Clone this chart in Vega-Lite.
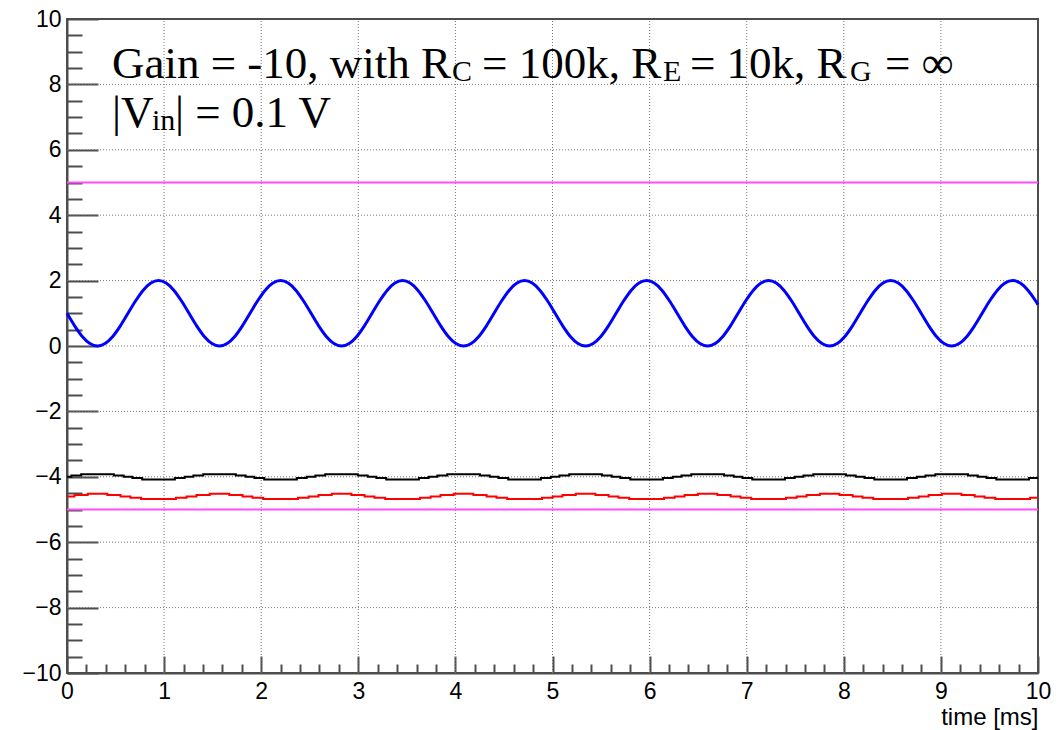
{
  "$schema": "https://vega.github.io/schema/vega-lite/v6.json",
  "width": 971,
  "height": 654,
  "autosize": "none",
  "padding": {"left": 67, "top": 19, "right": 22, "bottom": 57},
  "background": "white",
  "config": {
    "view": {"stroke": "#4d4d4d", "strokeWidth": 2},
    "axis": {
      "grid": false,
      "domainColor": "#4d4d4d",
      "domainWidth": 2,
      "tickColor": "#4d4d4d",
      "tickWidth": 2,
      "labelFont": "Liberation Sans",
      "labelFontSize": 23,
      "labelColor": "#000000",
      "labelFlush": false,
      "labelOverlap": false,
      "titleFont": "Liberation Sans",
      "titleFontWeight": "normal",
      "titleFontSize": 24,
      "titleColor": "#000000"
    }
  },
  "datasets": {
    "gridx": [
      {"t":1,"v":-10},{"t":1,"v":10},{"t":2,"v":-10},{"t":2,"v":10},{"t":3,"v":-10},{"t":3,"v":10},
      {"t":4,"v":-10},{"t":4,"v":10},{"t":5,"v":-10},{"t":5,"v":10},{"t":6,"v":-10},{"t":6,"v":10},
      {"t":7,"v":-10},{"t":7,"v":10},{"t":8,"v":-10},{"t":8,"v":10},{"t":9,"v":-10},{"t":9,"v":10}
    ],
    "gridy": [
      {"t":0,"v":-8},{"t":10,"v":-8},{"t":0,"v":-6},{"t":10,"v":-6},{"t":0,"v":-4},{"t":10,"v":-4},
      {"t":0,"v":-2},{"t":10,"v":-2},{"t":0,"v":0},{"t":10,"v":0},{"t":0,"v":2},{"t":10,"v":2},
      {"t":0,"v":4},{"t":10,"v":4},{"t":0,"v":6},{"t":10,"v":6},{"t":0,"v":8},{"t":10,"v":8}
    ],
    "blue": [
      {"t":0,"v":1},{"t":0.0785,"v":0.6173},{"t":0.1571,"v":0.2929},{"t":0.2356,"v":0.0761},{"t":0.3142,"v":0},{"t":0.3927,"v":0.0761},{"t":0.4712,"v":0.2929},{"t":0.5498,"v":0.6173},{"t":0.6283,"v":1},{"t":0.7069,"v":1.3827},{"t":0.7854,"v":1.7071},{"t":0.8639,"v":1.9239},{"t":0.9425,"v":2},{"t":1.0210,"v":1.9239},{"t":1.0996,"v":1.7071},{"t":1.1781,"v":1.3827},
      {"t":1.2566,"v":1},{"t":1.3352,"v":0.6173},{"t":1.4137,"v":0.2929},{"t":1.4923,"v":0.0761},{"t":1.5708,"v":0},{"t":1.6493,"v":0.0761},{"t":1.7279,"v":0.2929},{"t":1.8064,"v":0.6173},{"t":1.8850,"v":1},{"t":1.9635,"v":1.3827},{"t":2.0420,"v":1.7071},{"t":2.1206,"v":1.9239},{"t":2.1991,"v":2},{"t":2.2777,"v":1.9239},{"t":2.3562,"v":1.7071},{"t":2.4347,"v":1.3827},
      {"t":2.5133,"v":1},{"t":2.5918,"v":0.6173},{"t":2.6704,"v":0.2929},{"t":2.7489,"v":0.0761},{"t":2.8274,"v":0},{"t":2.9060,"v":0.0761},{"t":2.9845,"v":0.2929},{"t":3.0631,"v":0.6173},{"t":3.1416,"v":1},{"t":3.2201,"v":1.3827},{"t":3.2987,"v":1.7071},{"t":3.3772,"v":1.9239},{"t":3.4558,"v":2},{"t":3.5343,"v":1.9239},{"t":3.6128,"v":1.7071},{"t":3.6914,"v":1.3827},
      {"t":3.7699,"v":1},{"t":3.8485,"v":0.6173},{"t":3.9270,"v":0.2929},{"t":4.0055,"v":0.0761},{"t":4.0841,"v":0},{"t":4.1626,"v":0.0761},{"t":4.2412,"v":0.2929},{"t":4.3197,"v":0.6173},{"t":4.3982,"v":1},{"t":4.4768,"v":1.3827},{"t":4.5553,"v":1.7071},{"t":4.6339,"v":1.9239},{"t":4.7124,"v":2},{"t":4.7909,"v":1.9239},{"t":4.8695,"v":1.7071},{"t":4.9480,"v":1.3827},
      {"t":5.0265,"v":1},{"t":5.1051,"v":0.6173},{"t":5.1836,"v":0.2929},{"t":5.2622,"v":0.0761},{"t":5.3407,"v":0},{"t":5.4192,"v":0.0761},{"t":5.4978,"v":0.2929},{"t":5.5763,"v":0.6173},{"t":5.6549,"v":1},{"t":5.7334,"v":1.3827},{"t":5.8119,"v":1.7071},{"t":5.8905,"v":1.9239},{"t":5.9690,"v":2},{"t":6.0476,"v":1.9239},{"t":6.1261,"v":1.7071},{"t":6.2046,"v":1.3827},
      {"t":6.2832,"v":1},{"t":6.3617,"v":0.6173},{"t":6.4403,"v":0.2929},{"t":6.5188,"v":0.0761},{"t":6.5973,"v":0},{"t":6.6759,"v":0.0761},{"t":6.7544,"v":0.2929},{"t":6.8330,"v":0.6173},{"t":6.9115,"v":1},{"t":6.9900,"v":1.3827},{"t":7.0686,"v":1.7071},{"t":7.1471,"v":1.9239},{"t":7.2257,"v":2},{"t":7.3042,"v":1.9239},{"t":7.3827,"v":1.7071},{"t":7.4613,"v":1.3827},
      {"t":7.5398,"v":1},{"t":7.6184,"v":0.6173},{"t":7.6969,"v":0.2929},{"t":7.7754,"v":0.0761},{"t":7.8540,"v":0},{"t":7.9325,"v":0.0761},{"t":8.0111,"v":0.2929},{"t":8.0896,"v":0.6173},{"t":8.1681,"v":1},{"t":8.2467,"v":1.3827},{"t":8.3252,"v":1.7071},{"t":8.4038,"v":1.9239},{"t":8.4823,"v":2},{"t":8.5608,"v":1.9239},{"t":8.6394,"v":1.7071},{"t":8.7179,"v":1.3827},
      {"t":8.7965,"v":1},{"t":8.8750,"v":0.6173},{"t":8.9535,"v":0.2929},{"t":9.0321,"v":0.0761},{"t":9.1106,"v":0},{"t":9.1892,"v":0.0761},{"t":9.2677,"v":0.2929},{"t":9.3462,"v":0.6173},{"t":9.4248,"v":1},{"t":9.5033,"v":1.3827},{"t":9.5819,"v":1.7071},{"t":9.6604,"v":1.9239},{"t":9.7389,"v":2},{"t":9.8175,"v":1.9239},{"t":9.8960,"v":1.7071},{"t":9.9746,"v":1.3827},
      {"t":10,"v":1.2624}
    ],
    "black": [
      {"t":0,"v":-4.00},
      {"t":0.0448,"v":-3.96},{"t":0.1459,"v":-3.92},{"t":0.4824,"v":-3.96},{"t":0.5835,"v":-4.00},{"t":0.6731,"v":-4.04},{"t":0.7743,"v":-4.08},{"t":1.1107,"v":-4.04},{"t":1.2119,"v":-4.00},
      {"t":1.3014,"v":-3.96},{"t":1.4026,"v":-3.92},{"t":1.7390,"v":-3.96},{"t":1.8402,"v":-4.00},{"t":1.9297,"v":-4.04},{"t":2.0309,"v":-4.08},{"t":2.3673,"v":-4.04},{"t":2.4685,"v":-4.00},
      {"t":2.5581,"v":-3.96},{"t":2.6592,"v":-3.92},{"t":2.9957,"v":-3.96},{"t":3.0968,"v":-4.00},{"t":3.1864,"v":-4.04},{"t":3.2875,"v":-4.08},{"t":3.6240,"v":-4.04},{"t":3.7251,"v":-4.00},
      {"t":3.8147,"v":-3.96},{"t":3.9159,"v":-3.92},{"t":4.2523,"v":-3.96},{"t":4.3535,"v":-4.00},{"t":4.4430,"v":-4.04},{"t":4.5442,"v":-4.08},{"t":4.8806,"v":-4.04},{"t":4.9818,"v":-4.00},
      {"t":5.0713,"v":-3.96},{"t":5.1725,"v":-3.92},{"t":5.5089,"v":-3.96},{"t":5.6101,"v":-4.00},{"t":5.6996,"v":-4.04},{"t":5.8008,"v":-4.08},{"t":6.1373,"v":-4.04},{"t":6.2384,"v":-4.00},
      {"t":6.3280,"v":-3.96},{"t":6.4291,"v":-3.92},{"t":6.7656,"v":-3.96},{"t":6.8667,"v":-4.00},{"t":6.9563,"v":-4.04},{"t":7.0574,"v":-4.08},{"t":7.3939,"v":-4.04},{"t":7.4950,"v":-4.00},
      {"t":7.5846,"v":-3.96},{"t":7.6858,"v":-3.92},{"t":8.0222,"v":-3.96},{"t":8.1234,"v":-4.00},{"t":8.2129,"v":-4.04},{"t":8.3141,"v":-4.08},{"t":8.6505,"v":-4.04},{"t":8.7517,"v":-4.00},
      {"t":8.8412,"v":-3.96},{"t":8.9424,"v":-3.92},{"t":9.2788,"v":-3.96},{"t":9.3800,"v":-4.00},{"t":9.4696,"v":-4.04},{"t":9.5707,"v":-4.08},{"t":9.9072,"v":-4.04},
      {"t":10,"v":-4.04}
    ],
    "red": [
      {"t":0,"v":-4.60},
      {"t":0.0769,"v":-4.56},{"t":0.2131,"v":-4.52},{"t":0.4152,"v":-4.56},{"t":0.5514,"v":-4.60},{"t":0.6534,"v":-4.64},{"t":0.7633,"v":-4.68},{"t":1.1216,"v":-4.64},{"t":1.2316,"v":-4.60},
      {"t":1.3335,"v":-4.56},{"t":1.4697,"v":-4.52},{"t":1.6719,"v":-4.56},{"t":1.8081,"v":-4.60},{"t":1.9100,"v":-4.64},{"t":2.0200,"v":-4.68},{"t":2.3783,"v":-4.64},{"t":2.4882,"v":-4.60},
      {"t":2.5902,"v":-4.56},{"t":2.7264,"v":-4.52},{"t":2.9285,"v":-4.56},{"t":3.0647,"v":-4.60},{"t":3.1667,"v":-4.64},{"t":3.2766,"v":-4.68},{"t":3.6349,"v":-4.64},{"t":3.7449,"v":-4.60},
      {"t":3.8468,"v":-4.56},{"t":3.9830,"v":-4.52},{"t":4.1852,"v":-4.56},{"t":4.3214,"v":-4.60},{"t":4.4233,"v":-4.64},{"t":4.5333,"v":-4.68},{"t":4.8915,"v":-4.64},{"t":5.0015,"v":-4.60},
      {"t":5.1034,"v":-4.56},{"t":5.2396,"v":-4.52},{"t":5.4418,"v":-4.56},{"t":5.5780,"v":-4.60},{"t":5.6799,"v":-4.64},{"t":5.7899,"v":-4.68},{"t":6.1482,"v":-4.64},{"t":6.2581,"v":-4.60},
      {"t":6.3601,"v":-4.56},{"t":6.4963,"v":-4.52},{"t":6.6984,"v":-4.56},{"t":6.8346,"v":-4.60},{"t":6.9366,"v":-4.64},{"t":7.0465,"v":-4.68},{"t":7.4048,"v":-4.64},{"t":7.5148,"v":-4.60},
      {"t":7.6167,"v":-4.56},{"t":7.7529,"v":-4.52},{"t":7.9551,"v":-4.56},{"t":8.0913,"v":-4.60},{"t":8.1932,"v":-4.64},{"t":8.3032,"v":-4.68},{"t":8.6614,"v":-4.64},{"t":8.7714,"v":-4.60},
      {"t":8.8733,"v":-4.56},{"t":9.0095,"v":-4.52},{"t":9.2117,"v":-4.56},{"t":9.3479,"v":-4.60},{"t":9.4498,"v":-4.64},{"t":9.5598,"v":-4.68},{"t":9.9181,"v":-4.64},
      {"t":10,"v":-4.64}
    ],
    "limits": [
      {"t":0,"v":5},{"t":10,"v":5},
      {"t":0,"v":-5},{"t":10,"v":-5}
    ],
    "caption": [
      {"t":0.463,"v":8.196,"s":"Gain = -10, with R"},
      {"t":4.274,"v":8.196,"s":"= 100k, R"},
      {"t":6.416,"v":8.196,"s":"= 10k, R"},
      {"t":8.424,"v":8.196,"s":"= ∞"},
      {"t":0.463,"v":6.697,"s":"|V"},
      {"t":1.112,"v":6.697,"s":"| = 0.1 V"}
    ],
    "subscripts": [
      {"t":3.965,"v":8.104,"s":"C"},
      {"t":6.138,"v":8.104,"s":"E"},
      {"t":8.064,"v":8.104,"s":"G"},
      {"t":0.875,"v":6.606,"s":"in"}
    ]
  },
  "encoding": {
    "x": {
      "field": "t",
      "type": "quantitative",
      "scale": {"domain": [0, 10], "nice": false, "zero": false},
      "axis": {
        "title": "time [ms]",
        "titleAnchor": null,
        "titleAlign": "right",
        "titleBaseline": "alphabetic",
        "titleX": 971,
        "titleY": 51,
        "tickCount": 1000,
        "tickMinStep": 0.05,
        "values": [0,0.2,0.4,0.6,0.8,1,1.2,1.4,1.6,1.8,2,2.2,2.4,2.6,2.8,3,3.2,3.4,3.6,3.8,4,4.2,4.4,4.6,4.8,5,5.2,5.4,5.6,5.8,6,6.2,6.4,6.6,6.8,7,7.2,7.4,7.6,7.8,8,8.2,8.4,8.6,8.8,9,9.2,9.4,9.6,9.8,10],
        "labelExpr": "abs(datum.value - round(datum.value)) < 0.001 ? format(round(datum.value), 'd') : ''",
        "labelPadding": 24,
        "tickSize": {"condition": {"test": "abs(datum.value - round(datum.value)) < 0.001", "value": -17}, "value": -9}
      }
    },
    "y": {
      "field": "v",
      "type": "quantitative",
      "scale": {"domain": [-10, 10], "nice": false, "zero": false},
      "axis": {
        "title": null,
        "tickCount": 1000,
        "tickMinStep": 0.05,
        "values": [-10,-9.5,-9,-8.5,-8,-7.5,-7,-6.5,-6,-5.5,-5,-4.5,-4,-3.5,-3,-2.5,-2,-1.5,-1,-0.5,0,0.5,1,1.5,2,2.5,3,3.5,4,4.5,5,5.5,6,6.5,7,7.5,8,8.5,9,9.5,10],
        "labelExpr": "datum.value % 2 === 0 ? format(datum.value, 'd') : ''",
        "labelPadding": 37,
        "tickSize": {"condition": {"test": "datum.value % 2 === 0", "value": -31}, "value": -15}
      }
    }
  },
  "layer": [
    {
      "data": {"name": "gridx"},
      "mark": {"type": "line", "color": "#777777", "strokeWidth": 1, "strokeDash": [1, 2]},
      "encoding": {"detail": {"field": "t", "type": "nominal"}}
    },
    {
      "data": {"name": "gridy"},
      "mark": {"type": "line", "color": "#777777", "strokeWidth": 1, "strokeDash": [1, 2]},
      "encoding": {"detail": {"field": "v", "type": "nominal"}}
    },
    {
      "data": {"name": "limits"},
      "mark": {"type": "line", "color": "#ff4dff", "strokeWidth": 2},
      "encoding": {"detail": {"field": "v", "type": "nominal"}}
    },
    {
      "data": {"name": "red"},
      "mark": {"type": "line", "color": "#ff0000", "strokeWidth": 2, "interpolate": "step-after"}
    },
    {
      "data": {"name": "black"},
      "mark": {"type": "line", "color": "#000000", "strokeWidth": 2, "interpolate": "step-after"}
    },
    {
      "data": {"name": "blue"},
      "mark": {"type": "line", "color": "#0000ff", "strokeWidth": 3, "interpolate": "monotone"}
    },
    {
      "data": {"name": "caption"},
      "mark": {"type": "text", "font": "Liberation Serif", "fontSize": 45, "align": "left", "baseline": "alphabetic", "color": "#000000"},
      "encoding": {"text": {"field": "s", "type": "nominal"}}
    },
    {
      "data": {"name": "subscripts"},
      "mark": {"type": "text", "font": "Liberation Serif", "fontSize": 30, "align": "left", "baseline": "alphabetic", "color": "#000000"},
      "encoding": {"text": {"field": "s", "type": "nominal"}}
    }
  ]
}
